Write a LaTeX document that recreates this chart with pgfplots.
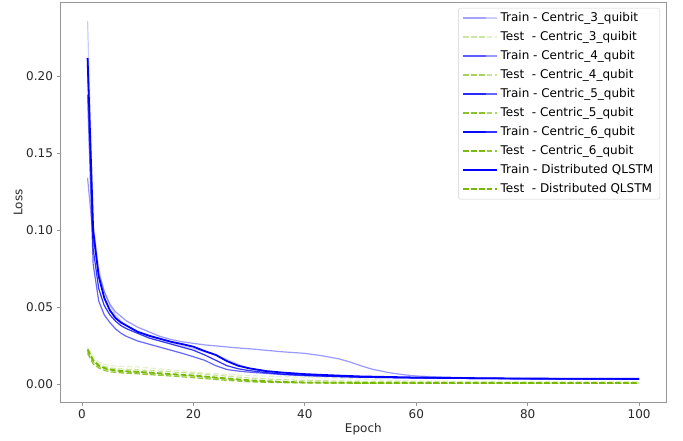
\documentclass[border=0pt]{standalone}
\usepackage{pgfplots}
\pgfplotsset{compat=1.18}
\usepackage{fontspec}
\setmainfont{DejaVu Sans}
\definecolor{testgreen}{RGB}{118,185,0}
\definecolor{spine}{RGB}{150,150,150}
\definecolor{ticklab}{RGB}{40,40,40}
\begin{document}
\begin{tikzpicture}[x=1pt,y=1pt]
\useasboundingbox (-60,-38.7) rectangle (623,402.3);
\begin{axis}[
  at={(0,0)}, anchor=south west,
  scale only axis, width=606.7pt, height=399.6pt,
  xmin=-3.95, xmax=104.95, ymin=-0.0118, ymax=0.2478,
  xtick={0,20,40,60,80,100},
  ytick={0,0.05,0.10,0.15,0.20},
  yticklabel style={/pgf/number format/.cd,fixed,fixed zerofill,precision=2},
  scaled y ticks=false,
  /pgf/number format/assume math mode=true,
  tick label style={font=\fontsize{12}{14}\selectfont, text=ticklab},
  label style={font=\fontsize{12}{14}\selectfont, text=ticklab},
  xlabel={Epoch}, ylabel={Loss},
  xlabel style={at={(axis description cs:0.5,-0.0676)}, anchor=center},
  ylabel style={at={(axis description cs:-0.0692,0.5)}, anchor=center},
  axis line style={spine, line width=0.8pt},
  tick align=outside, xtick pos=left, ytick pos=left,
  major tick length=3.5pt,
  tick style={spine, line width=0.8pt},
  legend cell align=left,
  legend style={
    at={(axis description cs:0.989,0.987)}, anchor=north east,
    draw=black!18, rounded corners=2pt, fill=white,
    font=\fontsize{12}{14}\selectfont,
    inner xsep=4pt, inner ysep=0.5pt, row sep=0pt,
    nodes={inner ysep=3.5pt, inner xsep=2.5pt, text height=9pt, text depth=3pt},
  },
  legend image code/.code={\draw[#1] (0pt,0pt) -- (23pt,0pt); \path (0pt,0pt) -- (34pt,0pt);},
]
% Train Centric_3
\addplot[color=blue, draw opacity=0.2, line width=1.2pt] coordinates {
(1,0.236)(2,0.105)(3,0.075)(4,0.060)(5,0.051)(6,0.045)(7,0.041)(8,0.038)(10,0.034)(12,0.031)(14,0.029)(16,0.027)(18,0.025)(20,0.023)(22,0.021)(24,0.019)(26,0.016)(28,0.013)(30,0.010)(33,0.008)(36,0.0065)(40,0.0055)(45,0.005)(50,0.0045)(60,0.004)(70,0.0037)(80,0.0035)(90,0.0033)(100,0.0032)};
\addlegendentry{Train - Centric\_3\_quibit}
\addplot[color=testgreen, draw opacity=0.2, line width=1.2pt, dash pattern=on 5.5pt off 2.4pt] coordinates {
(1,0.024)(2,0.018)(3,0.0145)(4,0.013)(5,0.012)(7,0.0115)(10,0.0112)(15,0.0095)(20,0.0078)(25,0.0065)(30,0.0055)(35,0.005)(40,0.0045)(45,0.004)(50,0.0033)(55,0.0025)(60,0.002)(70,0.0017)(80,0.0016)(90,0.0015)(100,0.0015)};
\addlegendentry{Test\ \ - Centric\_3\_quibit}
% Train Centric_4
\addplot[color=blue, draw opacity=0.4, line width=1.2pt] coordinates {
(1,0.134)(2,0.095)(3,0.072)(4,0.060)(5,0.052)(6,0.047)(7,0.044)(8,0.041)(10,0.037)(12,0.034)(14,0.031)(16,0.029)(18,0.0275)(20,0.0265)(22,0.0255)(25,0.0245)(28,0.0235)(30,0.023)(33,0.022)(36,0.021)(40,0.020)(43,0.0185)(46,0.0165)(48,0.0145)(50,0.012)(52,0.0098)(55,0.0075)(58,0.006)(60,0.0053)(65,0.0045)(70,0.0041)(80,0.0037)(90,0.0035)(100,0.0034)};
\addlegendentry{Train - Centric\_4\_qubit}
\addplot[color=testgreen, draw opacity=0.4, line width=1.2pt, dash pattern=on 5.5pt off 2.4pt] coordinates {
(1,0.023)(2,0.016)(3,0.013)(4,0.0115)(5,0.0105)(7,0.0098)(10,0.0093)(15,0.0082)(20,0.007)(25,0.0055)(30,0.004)(35,0.003)(40,0.0024)(50,0.0018)(60,0.0014)(70,0.0012)(80,0.0011)(90,0.001)(100,0.001)};
\addlegendentry{Test\ \ - Centric\_4\_qubit}
% Train Centric_5
\addplot[color=blue, draw opacity=0.6, line width=1.2pt] coordinates {
(1,0.188)(2,0.078)(3,0.054)(4,0.045)(5,0.040)(6,0.036)(7,0.033)(8,0.031)(10,0.028)(12,0.026)(14,0.024)(16,0.022)(18,0.020)(20,0.0178)(22,0.0155)(24,0.012)(26,0.0095)(28,0.0085)(30,0.0078)(33,0.007)(36,0.0062)(40,0.0055)(45,0.005)(50,0.0045)(60,0.004)(70,0.0037)(80,0.0035)(90,0.0033)(100,0.0032)};
\addlegendentry{Train - Centric\_5\_qubit}
\addplot[color=testgreen, draw opacity=0.6, line width=1.2pt, dash pattern=on 5.5pt off 2.4pt] coordinates {
(1,0.021)(2,0.0145)(3,0.0115)(4,0.010)(5,0.009)(7,0.008)(10,0.0075)(15,0.0063)(20,0.0052)(25,0.0035)(30,0.002)(35,0.0013)(40,0.001)(50,0.0008)(60,0.0007)(80,0.0006)(100,0.0006)};
\addlegendentry{Test\ \ - Centric\_5\_qubit}
% Train Centric_6
\addplot[color=blue, draw opacity=0.8, line width=1.2pt] coordinates {
(1,0.21)(2,0.088)(3,0.062)(4,0.051)(5,0.045)(6,0.041)(7,0.038)(8,0.036)(10,0.033)(12,0.030)(14,0.028)(16,0.026)(18,0.024)(20,0.022)(22,0.019)(24,0.0155)(26,0.012)(28,0.010)(30,0.0088)(33,0.0075)(36,0.0065)(40,0.0058)(45,0.005)(50,0.0045)(60,0.004)(70,0.0037)(80,0.0035)(90,0.0034)(100,0.0033)};
\addlegendentry{Train - Centric\_6\_qubit}
\addplot[color=testgreen, draw opacity=0.8, line width=1.2pt, dash pattern=on 5.5pt off 2.4pt] coordinates {
(1,0.020)(2,0.013)(3,0.0105)(4,0.009)(5,0.008)(7,0.0073)(10,0.0067)(15,0.0055)(20,0.0042)(25,0.0027)(30,0.0015)(35,0.001)(40,0.0008)(50,0.0006)(60,0.0005)(80,0.0005)(100,0.0005)};
\addlegendentry{Test\ \ - Centric\_6\_qubit}
% Distributed
\addplot[color=blue, line width=1.8pt] coordinates {
(1,0.212)(2,0.100)(3,0.070)(4,0.056)(5,0.048)(6,0.043)(7,0.040)(8,0.038)(10,0.034)(12,0.0315)(14,0.0295)(16,0.0275)(18,0.026)(20,0.0243)(22,0.0215)(24,0.019)(26,0.015)(28,0.012)(30,0.0103)(33,0.0085)(36,0.0075)(40,0.0065)(45,0.0057)(50,0.005)(60,0.0043)(70,0.0039)(80,0.0036)(90,0.0035)(100,0.0034)};
\addlegendentry{Train - Distributed QLSTM}
\addplot[color=testgreen, line width=1.8pt, dash pattern=on 5.5pt off 2.4pt] coordinates {
(1,0.0225)(2,0.0155)(3,0.012)(4,0.0105)(5,0.0095)(7,0.0085)(10,0.008)(15,0.0068)(20,0.0056)(25,0.004)(30,0.0025)(35,0.0016)(40,0.0011)(50,0.0008)(60,0.0007)(80,0.0007)(100,0.0007)};
\addlegendentry{Test\ \ - Distributed QLSTM}
\end{axis}
\end{tikzpicture}
\end{document}
